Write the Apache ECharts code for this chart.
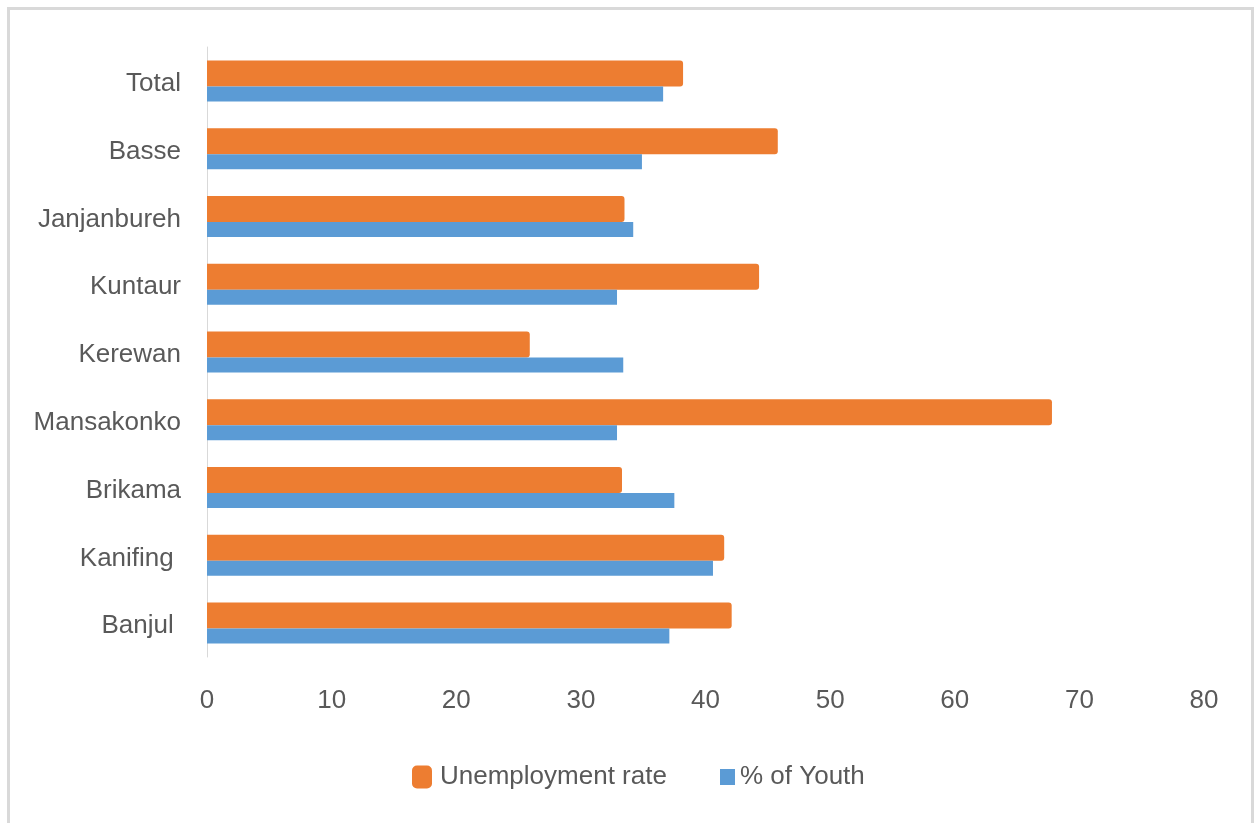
<!DOCTYPE html>
<html>
<head>
<meta charset="utf-8">
<script src="https://cdn.jsdelivr.net/npm/echarts@6/dist/echarts.min.js"></script>
<style>
  html, body { margin: 0; padding: 0; background: #ffffff; }
  #chart { width: 1255px; height: 823px; }
</style>
</head>
<body>
<div id="chart"></div>
<script>
// Regions, listed from the bottom of the axis upwards
const regions = ['Banjul ', 'Kanifing ', 'Brikama', 'Mansakonko', 'Kerewan', 'Kuntaur', 'Janjanbureh', 'Basse', 'Total'];
// Unemployment rate (%) per region
const unemploymentRate = [42.1, 41.5, 33.3, 67.8, 25.9, 44.3, 33.5, 45.8, 38.2];
// Share of youth (%) per region
const youthShare = [37.1, 40.6, 37.5, 32.9, 33.4, 32.9, 34.2, 34.9, 36.6];
// Value axis ticks
const xTicks = [0, 10, 20, 30, 40, 50, 60, 70, 80];

const seriesNames = ['Unemployment rate', '% of Youth'];
const ORANGE = '#ED7D31';
const BLUE = '#5B9BD5';
const TEXT = '#595959';
const FONT = "'Liberation Sans', Arial, sans-serif";

const chart = echarts.init(document.getElementById('chart'), null, { renderer: 'canvas' });

chart.setOption({
  backgroundColor: '#ffffff',
  animation: false,
  graphic: [{
    type: 'rect',
    shape: { x: 8.5, y: 8.5, width: 1244, height: 830 },
    style: { fill: 'none', stroke: '#D9D9D9', lineWidth: 3 },
    silent: true
  }],
  legend: [{
    data: [{ name: seriesNames[0], icon: 'roundRect' }],
    left: 407,
    top: 759,
    itemWidth: 20,
    itemHeight: 23,
    textStyle: { color: TEXT, fontSize: 26, fontFamily: FONT, padding: [0, 0, 0, 3] }
  }, {
    data: [{ name: seriesNames[1], icon: 'rect' }],
    left: 715,
    top: 759,
    itemWidth: 15,
    itemHeight: 16,
    textStyle: { color: TEXT, fontSize: 26, fontFamily: FONT }
  }],
  grid: { left: 207, right: 51, top: 47, bottom: 166, containLabel: false },
  xAxis: {
    type: 'value',
    min: xTicks[0],
    max: xTicks[xTicks.length - 1],
    interval: xTicks[1] - xTicks[0],
    axisLine: { show: false },
    axisTick: { show: false },
    splitLine: { show: false },
    axisLabel: { color: TEXT, fontSize: 26, fontFamily: FONT, margin: 31 }
  },
  yAxis: {
    type: 'category',
    data: regions,
    axisLine: { show: true, lineStyle: { color: '#D9D9D9', width: 1 } },
    axisTick: { show: false },
    axisLabel: {
      color: TEXT, fontSize: 26, fontFamily: FONT, margin: 26,
      verticalAlign: 'top', lineHeight: 6
    }
  },
  series: [{
    name: seriesNames[0],
    type: 'bar',
    data: unemploymentRate,
    barWidth: 26,
    barGap: '0%',
    itemStyle: { color: ORANGE, borderRadius: [0, 3, 3, 0] }
  }, {
    name: seriesNames[1],
    type: 'bar',
    data: youthShare,
    barWidth: 15,
    barGap: '0%',
    itemStyle: { color: BLUE }
  }]
});
</script>
</body>
</html>
